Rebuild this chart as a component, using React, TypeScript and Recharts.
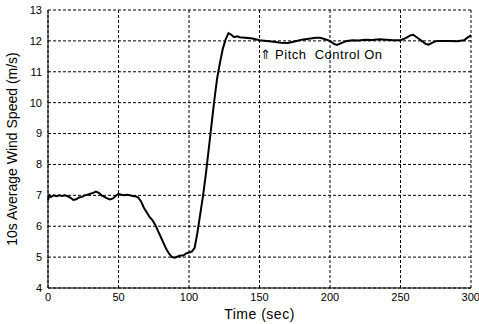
import React from 'react';
import { LineChart, Line, XAxis, YAxis, CartesianGrid, ReferenceDot } from 'recharts';

// time (sec)
const times = [
  0, 1, 2, 4, 6, 8, 10, 12, 14, 16, 18, 20, 22, 24, 26, 28, 30, 32, 34, 36, 38, 40, 42, 44, 46, 48,
  50, 52, 54, 56, 58, 60, 62, 64, 66, 68, 70, 72, 74, 76, 78, 80, 82, 84, 86, 88, 90, 92, 94, 96, 98,
  100, 102, 104, 106, 108, 110, 112, 114, 116, 118, 120, 122, 124, 126, 128, 130, 132, 134,
  136, 140, 145, 150, 155, 160, 165, 170, 175, 180, 185, 190, 193, 196, 200, 203, 205, 208, 212, 216,
  220, 225, 230, 235, 240, 245, 250, 254, 257, 259, 262, 265, 268, 270, 273, 276, 280, 285, 290, 295,
  298, 300,
];

// 10s average wind speed (m/s)
const speeds = [
  6.85, 7.0, 6.95, 7.0, 6.97, 7.0, 6.98, 7.0, 6.97, 6.92, 6.85, 6.87, 6.93, 6.95, 7.0, 7.02, 7.05,
  7.08, 7.12, 7.08, 7.0, 6.95, 6.9, 6.87, 6.9, 6.98,
  7.05, 7.02, 7.0, 7.02, 7.0, 6.98, 6.97, 6.93, 6.8, 6.6, 6.45, 6.3, 6.2, 6.05, 5.85, 5.65, 5.45,
  5.25, 5.1, 5.0, 4.98, 5.02, 5.05, 5.05, 5.12,
  5.15, 5.18, 5.3, 5.8, 6.4, 7.0, 7.7, 8.5, 9.3, 10.1, 10.8, 11.3, 11.75, 12.05, 12.25, 12.2, 12.12,
  12.15,
  12.12, 12.1, 12.08, 12.02, 12.0, 11.97, 11.94, 11.93, 11.98, 12.04, 12.07, 12.1, 12.1, 12.06, 12.0,
  11.9, 11.87, 11.93, 12.0, 12.02,
  12.01, 12.04, 12.03, 12.05, 12.04, 12.02, 12.02, 12.1, 12.18, 12.2, 12.1, 12.0, 11.9, 11.88, 11.95,
  12.0, 12.0, 12.0, 11.99, 12.02,
  12.12, 12.18,
];

const xTicks = [0, 50, 100, 150, 200, 250, 300];
const yTicks = [4, 5, 6, 7, 8, 9, 10, 11, 12, 13];

const data = times.map((t, i) => ({ t, v: speeds[i] }));

const font = '"Liberation Sans", Arial, sans-serif';

const NoteLabel = (props: any) => {
  const { viewBox } = props;
  return (
    <text
      x={viewBox.x}
      y={viewBox.y}
      fontFamily={font}
      fontSize={13}
      fill="#000"
      letterSpacing={0.5}
      style={{ whiteSpace: 'pre' }}
    >
      {'⇑ Pitch  Control On'}
    </text>
  );
};

export default function App() {
  return (
    <div style={{ position: 'absolute', left: 0, top: 0, width: 479, height: 324, background: '#fff' }}>
      <LineChart
        width={479}
        height={324}
        data={data}
        margin={{ top: 10, right: 8, left: 0, bottom: 0 }}
      >
        <CartesianGrid stroke="#000" strokeDasharray="3 2" strokeWidth={1} />
        <XAxis
          dataKey="t"
          type="number"
          domain={[0, 300]}
          ticks={xTicks}
          height={36}
          tickSize={0}
          tickMargin={5}
          stroke="#000"
          tick={{ fill: '#000', fontSize: 11, fontFamily: font }}
          label={{
            value: 'Time (sec)',
            position: 'insideBottom',
            offset: 5,
            fill: '#000',
            fontSize: 14,
            fontFamily: font,
            letterSpacing: 0.5,
          }}
        />
        <XAxis xAxisId="top" orientation="top" type="number" domain={[0, 300]} height={0} tick={false} tickLine={false} stroke="#000" />
        <YAxis
          type="number"
          domain={[4, 13]}
          ticks={yTicks}
          width={48}
          tickSize={0}
          tickMargin={6}
          stroke="#000"
          interval={0}
          tick={{ fill: '#000', fontSize: 11, fontFamily: font }}
          label={{
            value: '10s  Average  Wind  Speed (m/s)',
            angle: -90,
            position: 'insideLeft',
            dx: 7,
            fill: '#000',
            fontSize: 14,
            fontFamily: font,
            style: { textAnchor: 'middle', whiteSpace: 'pre' },
          }}
        />
        <YAxis yAxisId="right" orientation="right" type="number" domain={[4, 13]} width={0} tick={false} tickLine={false} stroke="#000" />
        <ReferenceDot x={150} y={11.42} r={0} fill="none" stroke="none" label={<NoteLabel />} />
        <Line
          type="linear"
          dataKey="v"
          stroke="#000"
          strokeWidth={2}
          dot={false}
          isAnimationActive={false}
        />
      </LineChart>
    </div>
  );
}
